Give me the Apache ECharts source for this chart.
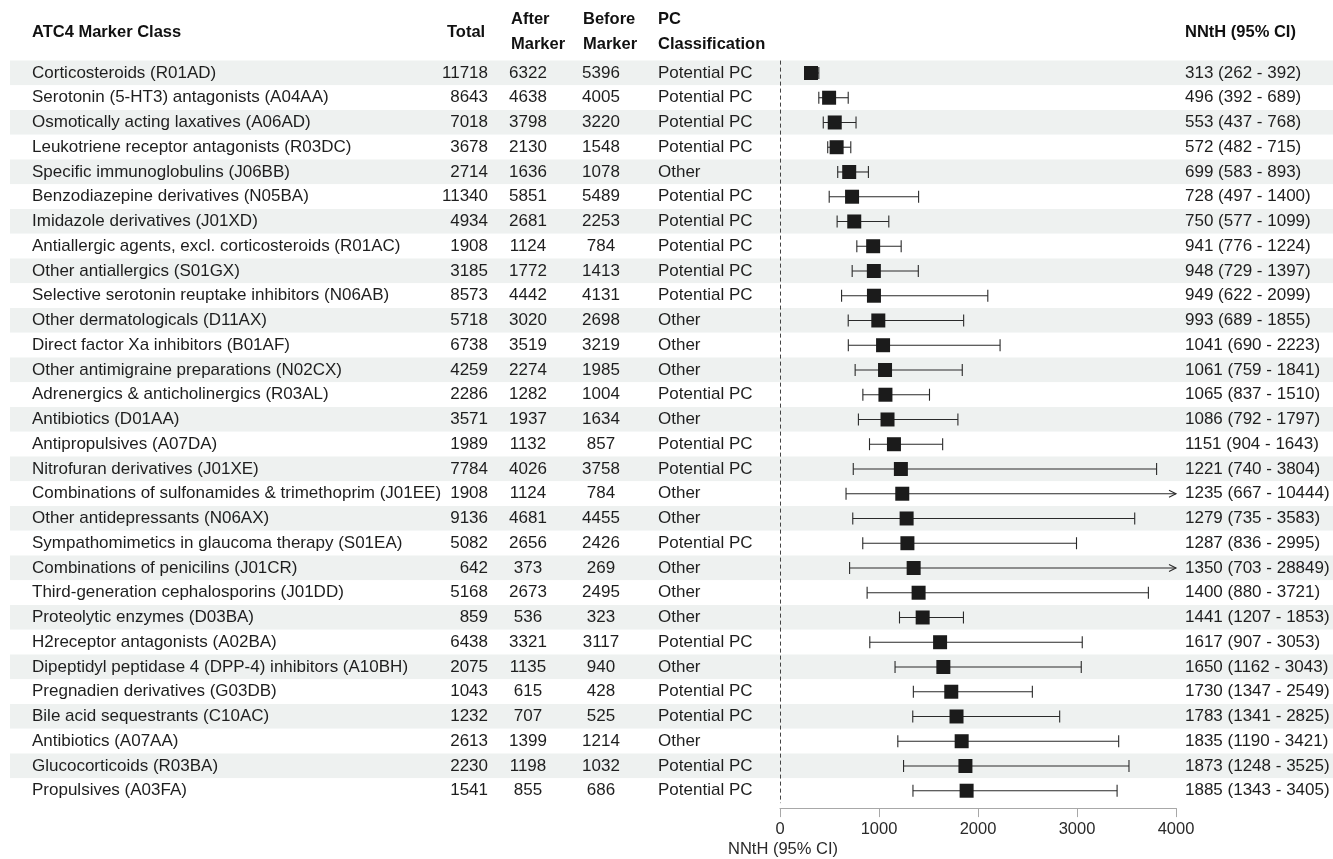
<!DOCTYPE html>
<html lang="en">
<head>
<meta charset="UTF-8">
<title>NNtH by ATC4 marker class</title>
<script src="https://cdn.jsdelivr.net/npm/echarts@6/dist/echarts.min.js"></script>
<style>
  html, body { margin: 0; padding: 0; background: #fff; }
  #main { width: 1333px; height: 859px; }
</style>
</head>
<body>
<div id="main"></div>
<script type="text/javascript">
// table rows, top to bottom
var classes = [
  'Corticosteroids (R01AD)',
  'Serotonin (5-HT3) antagonists (A04AA)',
  'Osmotically acting laxatives (A06AD)',
  'Leukotriene receptor antagonists (R03DC)',
  'Specific immunoglobulins (J06BB)',
  'Benzodiazepine derivatives (N05BA)',
  'Imidazole derivatives (J01XD)',
  'Antiallergic agents, excl. corticosteroids (R01AC)',
  'Other antiallergics (S01GX)',
  'Selective serotonin reuptake inhibitors (N06AB)',
  'Other dermatologicals (D11AX)',
  'Direct factor Xa inhibitors (B01AF)',
  'Other antimigraine preparations (N02CX)',
  'Adrenergics & anticholinergics (R03AL)',
  'Antibiotics (D01AA)',
  'Antipropulsives (A07DA)',
  'Nitrofuran derivatives (J01XE)',
  'Combinations of sulfonamides & trimethoprim (J01EE)',
  'Other antidepressants (N06AX)',
  'Sympathomimetics in glaucoma therapy (S01EA)',
  'Combinations of penicilins (J01CR)',
  'Third-generation cephalosporins (J01DD)',
  'Proteolytic enzymes (D03BA)',
  'H2receptor antagonists (A02BA)',
  'Dipeptidyl peptidase 4 (DPP-4) inhibitors (A10BH)',
  'Pregnadien derivatives (G03DB)',
  'Bile acid sequestrants (C10AC)',
  'Antibiotics (A07AA)',
  'Glucocorticoids (R03BA)',
  'Propulsives (A03FA)'
];
var total = [11718, 8643, 7018, 3678, 2714, 11340, 4934, 1908, 3185, 8573,
             5718, 6738, 4259, 2286, 3571, 1989, 7784, 1908, 9136, 5082,
             642, 5168, 859, 6438, 2075, 1043, 1232, 2613, 2230, 1541];
var afterMarker = [6322, 4638, 3798, 2130, 1636, 5851, 2681, 1124, 1772, 4442,
                   3020, 3519, 2274, 1282, 1937, 1132, 4026, 1124, 4681, 2656,
                   373, 2673, 536, 3321, 1135, 615, 707, 1399, 1198, 855];
var beforeMarker = [5396, 4005, 3220, 1548, 1078, 5489, 2253, 784, 1413, 4131,
                    2698, 3219, 1985, 1004, 1634, 857, 3758, 784, 4455, 2426,
                    269, 2495, 323, 3117, 940, 428, 525, 1214, 1032, 686];
var pcClass = ['Potential PC', 'Potential PC', 'Potential PC', 'Potential PC', 'Other',
               'Potential PC', 'Potential PC', 'Potential PC', 'Potential PC', 'Potential PC',
               'Other', 'Other', 'Other', 'Potential PC', 'Other',
               'Potential PC', 'Potential PC', 'Other', 'Other', 'Potential PC',
               'Other', 'Other', 'Other', 'Potential PC', 'Other',
               'Potential PC', 'Potential PC', 'Other', 'Potential PC', 'Potential PC'];
var nnth = [313, 496, 553, 572, 699, 728, 750, 941, 948, 949,
            993, 1041, 1061, 1065, 1086, 1151, 1221, 1235, 1279, 1287,
            1350, 1400, 1441, 1617, 1650, 1730, 1783, 1835, 1873, 1885];
var ciLow = [262, 392, 437, 482, 583, 497, 577, 776, 729, 622,
             689, 690, 759, 837, 792, 904, 740, 667, 735, 836,
             703, 880, 1207, 907, 1162, 1347, 1341, 1190, 1248, 1343];
var ciHigh = [392, 689, 768, 715, 893, 1400, 1099, 1224, 1397, 2099,
              1855, 2223, 1841, 1510, 1797, 1643, 3804, 10444, 3583, 2995,
              28849, 3721, 1853, 3053, 3043, 2549, 2825, 3421, 3525, 3405];
var xMin = 0, xMax = 4000, xStep = 1000;
var axisTitle = 'NNtH (95% CI)';

var FONT = '"Liberation Sans", Arial, Helvetica, sans-serif';
var TEXT = '#1e1e1e';

var myChart = echarts.init(document.getElementById('main'));

var rows = classes.map(function (c, i) { return [0, i]; });
var forestData = classes.map(function (c, i) { return [i, nnth[i], ciLow[i], ciHigh[i]]; });

function cell(x, y, txt, align, bold) {
  return {
    type: 'text',
    style: {
      x: x, y: y, text: String(txt), fill: TEXT,
      fontSize: bold ? 16.5 : 17, fontWeight: bold ? 'bold' : 'normal',
      fontFamily: FONT, align: align, verticalAlign: 'middle'
    }
  };
}

function renderRow(params, api) {
  var i = api.value(1);
  var y = api.coord([0, i])[1];
  return {
    type: 'group',
    children: [
      cell(32, y, classes[i], 'left'),
      cell(488, y, total[i], 'right'),
      cell(528, y, afterMarker[i], 'center'),
      cell(601, y, beforeMarker[i], 'center'),
      cell(658, y, pcClass[i], 'left'),
      cell(1185, y, nnth[i] + ' (' + ciLow[i] + ' - ' + ciHigh[i] + ')', 'left')
    ]
  };
}

function renderForest(params, api) {
  var i = api.value(0);
  var est = api.value(1), lo = api.value(2), hi = api.value(3);
  var cut = hi > xMax;
  var pE = api.coord([est, i]);
  var pL = api.coord([lo, i]);
  var pH = api.coord([cut ? xMax : hi, i]);
  var y = pE[1];
  var ls = { stroke: '#2a2a2a', lineWidth: 1.1, fill: 'none' };
  var kids = [
    { type: 'line', shape: { x1: pL[0], y1: y, x2: pH[0], y2: y }, style: ls },
    { type: 'line', shape: { x1: pL[0], y1: y - 6, x2: pL[0], y2: y + 6 }, style: ls }
  ];
  if (cut) {
    kids.push({ type: 'polyline', shape: { points: [[pH[0] - 7, y - 3.5], [pH[0], y], [pH[0] - 7, y + 3.5]] }, style: ls });
  } else {
    kids.push({ type: 'line', shape: { x1: pH[0], y1: y - 6, x2: pH[0], y2: y + 6 }, style: ls });
  }
  kids.push({ type: 'rect', shape: { x: pE[0] - 7, y: y - 7, width: 14, height: 14 }, style: { fill: '#1b1b1b' } });
  return { type: 'group', children: kids };
}

// header labels
var headers = [
  { x: 32, y: 34, text: 'ATC4 Marker Class' },
  { x: 447, y: 34, text: 'Total' },
  { x: 511, y: 21, text: 'After' },
  { x: 511, y: 46, text: 'Marker' },
  { x: 583, y: 21, text: 'Before' },
  { x: 583, y: 46, text: 'Marker' },
  { x: 658, y: 21, text: 'PC' },
  { x: 658, y: 46, text: 'Classification' },
  { x: 1185, y: 34, text: 'NNtH (95% CI)' }
];

var option = {
  animation: false,
  backgroundColor: '#fff',
  grid: [
    { left: 10, right: 0, top: 60.6, height: 742.5 },
    { left: 780, width: 396, top: 60.6, height: 742.5 }
  ],
  xAxis: [
    { gridIndex: 0, type: 'value', min: 0, max: 1, show: false },
    {
      gridIndex: 1, type: 'value', min: xMin, max: xMax, interval: xStep, offset: 5,
      axisLine: { show: true, lineStyle: { color: '#a8a8a8', width: 1 } },
      axisTick: { show: true, length: 9, lineStyle: { color: '#a8a8a8' } },
      axisLabel: {
        color: '#2a2a2a', fontSize: 16.5, fontFamily: FONT, margin: 13,
        formatter: function (v) { return String(v); }
      },
      splitLine: { show: false }
    }
  ],
  yAxis: [
    {
      gridIndex: 0, type: 'category', data: classes, inverse: true,
      axisLine: { show: false }, axisTick: { show: false }, axisLabel: { show: false },
      splitLine: { show: false },
      splitArea: { show: true, areaStyle: { color: ['#eef1f0', '#ffffff'] } }
    },
    {
      gridIndex: 1, type: 'category', data: classes, inverse: true, show: false
    }
  ],
  graphic: headers.map(function (h) {
    return {
      type: 'text', left: h.x, top: h.y - 10,
      style: { text: h.text, fill: '#111', fontSize: 16.5, fontWeight: 'bold', fontFamily: FONT }
    };
  }).concat([{
    type: 'text', left: 728, top: 841,
    style: { text: axisTitle, fill: '#2a2a2a', fontSize: 16.5, fontFamily: FONT }
  }]),
  series: [
    {
      type: 'custom', xAxisIndex: 0, yAxisIndex: 0,
      data: rows, encode: { x: 0, y: 1 },
      renderItem: renderRow, silent: true
    },
    {
      type: 'custom', xAxisIndex: 1, yAxisIndex: 1,
      data: forestData, encode: { x: [1, 2, 3], y: 0 },
      renderItem: renderForest, silent: true, clip: false,
      markLine: {
        silent: true, symbol: 'none', label: { show: false },
        lineStyle: { type: [4, 3], color: '#444', width: 1 },
        data: [{ xAxis: 0 }]
      }
    }
  ]
};
myChart.setOption(option);
</script>
</body>
</html>
